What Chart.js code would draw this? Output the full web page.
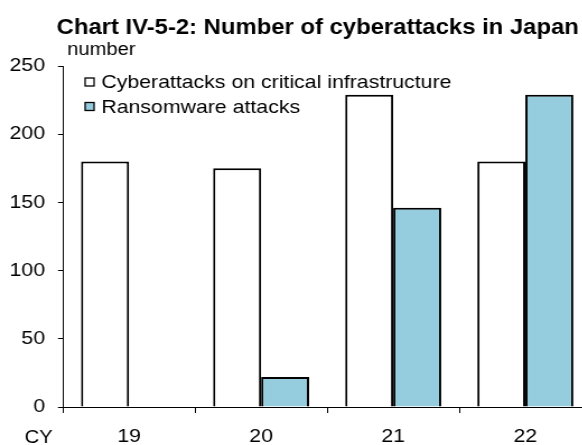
<!DOCTYPE html>
<html><head><meta charset="utf-8">
<script src="https://cdn.jsdelivr.net/npm/chart.js@4/dist/chart.umd.min.js"></script>
<style>
html,body{margin:0;padding:0;background:#fff;overflow:hidden;}
#outer{width:582px;height:445px;overflow:hidden;position:relative;}
#wrap{position:absolute;left:0;top:0;width:528px;height:445px;transform:scaleX(1.12);transform-origin:0 0;}
#c{display:block;}
</style></head>
<body>
<div id="outer"><div id="wrap"><canvas id="c" width="528" height="445" style="width:528px;height:445px"></canvas></div></div>
<script>
const categories = ['19','20','21','22'];
const criticalInfra = [180, 175, 229, 180];
const ransomware = [null, 22, 146, 229];
const yTicks = [0, 50, 100, 150, 200, 250];
const seriesNames = ['Cyberattacks on critical infrastructure', 'Ransomware attacks'];
const titleText = 'Chart IV-5-2: Number of cyberattacks in Japan';
const unitText = 'number';
const xAxisName = 'CY';

const FONT = '"Liberation Sans", Arial, sans-serif';
const BLUE = '#95CDDE';

const overlay = {
  id: 'overlay',
  afterDraw(chart) {
    const ctx = chart.ctx;
    ctx.save();
    ctx.fillStyle = '#000';
    ctx.textBaseline = 'alphabetic';
    ctx.textAlign = 'left';
    ctx.font = 'bold 21.3px ' + FONT;
    ctx.fillText(titleText, 50.5, 34);
    ctx.font = '18px ' + FONT;
    ctx.fillText(unitText, 60, 55);
    ctx.fillText(xAxisName, 22, 443);
    // legend
    ctx.font = '19px ' + FONT;
    const rows = [88, 112.5];
    chart.data.datasets.forEach((ds, i) => {
      const base = rows[i];
      const top = base - 10;
      ctx.fillStyle = ds.backgroundColor;
      ctx.fillRect(76, top, 8, 8);
      ctx.strokeStyle = '#000';
      ctx.lineWidth = 1.3;
      ctx.strokeRect(76, top, 8, 8);
      ctx.fillStyle = '#000';
      ctx.fillText(ds.label, 90.5, base);
    });
    ctx.restore();
  }
};

new Chart(document.getElementById('c'), {
  type: 'bar',
  data: {
    labels: categories,
    datasets: [
      { label: seriesNames[0], data: criticalInfra, backgroundColor: '#ffffff', borderColor: '#000', borderWidth: 2 },
      { label: seriesNames[1], data: ransomware, backgroundColor: BLUE, borderColor: '#000', borderWidth: 2 }
    ]
  },
  options: {
    responsive: false,
    animation: false,
    devicePixelRatio: 1,
    layout: { padding: { left: 0, right: 0, top: 66, bottom: 0 } },
    datasets: { bar: { barPercentage: 1, categoryPercentage: 0.727 } },
    plugins: { legend: { display: false }, title: { display: false }, tooltip: { enabled: false } },
    scales: {
      x: {
        offset: true,
        grid: { offset: true, drawOnChartArea: false, tickLength: 6, color: '#000', tickColor: '#000', lineWidth: 1 },
        border: { color: '#000', width: 1 },
        ticks: { color: '#000', font: { family: FONT, size: 19 }, padding: 12, maxRotation: 0 },
        afterFit(s) { s.height = 38; }
      },
      y: {
        min: 0, max: 250,
        afterBuildTicks(s) { s.ticks = yTicks.map(v => ({ value: v })); },
        grid: { drawOnChartArea: false, tickLength: 4.5, color: '#000', tickColor: '#000', lineWidth: 1 },
        border: { color: '#000', width: 1 },
        ticks: { color: '#000', font: { family: FONT, size: 19 }, padding: 11.5 },
        afterFit(s) { s.width = 56.25; }
      }
    }
  },
  plugins: [overlay]
});
</script>
</body></html>
